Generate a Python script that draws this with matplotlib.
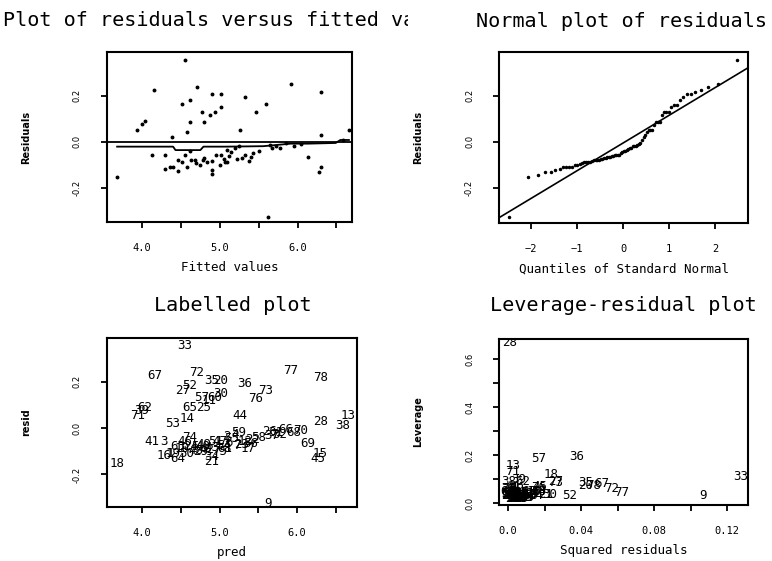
import numpy as np
import matplotlib
matplotlib.use("Agg")
import matplotlib.pyplot as plt
from matplotlib.transforms import Bbox
from statistics import NormalDist

# observations: fitted value, residual, leverage, observation number
fitted = [4.55, 4.16, 4.71, 4.90, 5.01, 4.62, 4.52, 5.01, 4.77, 4.94,
          4.87, 4.04, 4.00, 4.62, 4.80, 3.94, 4.58, 4.39, 4.13, 4.29,
          4.46, 4.52, 4.63, 4.68, 5.01, 5.07, 4.29, 4.36, 4.40, 4.46,
          4.58, 4.75, 4.90, 4.90, 3.68, 5.91, 6.30, 5.33, 5.59, 5.46,
          5.26, 6.30, 6.66, 6.14, 6.30, 6.27, 5.62, 5.09, 5.20, 5.12,
          5.22, 5.09, 5.33, 5.37, 5.43, 5.29, 5.65, 5.72, 5.78, 5.67,
          6.58, 4.79, 4.84, 4.90, 4.55, 4.70, 4.80, 4.95, 5.05, 5.15,
          5.40, 5.50, 5.25, 5.85, 5.95, 6.05, 4.62, 5.00]
residual = [0.357, 0.226, 0.238, 0.206, 0.206, 0.183, 0.162, 0.151, 0.130, 0.130,
            0.117, 0.088, 0.075, 0.087, 0.087, 0.052, 0.043, 0.020, -0.057, -0.057,
            -0.078, -0.087, -0.078, -0.078, -0.057, -0.087, -0.119, -0.110, -0.110, -0.129,
            -0.110, -0.100, -0.122, -0.143, -0.153, 0.249, 0.216, 0.194, 0.162, 0.129,
            0.052, 0.030, 0.052, -0.067, -0.110, -0.132, -0.327, -0.035, -0.027, -0.064,
            -0.075, -0.088, -0.057, -0.086, -0.049, -0.071, -0.013, -0.020, -0.027, -0.030,
            0.009, -0.080, -0.091, -0.083, -0.060, -0.095, -0.070, -0.060, -0.075, -0.045,
            -0.065, -0.040, -0.020, -0.005, -0.020, -0.010, -0.040, -0.100]
leverage = [0.110, 0.080, 0.060, 0.085, 0.075, 0.030, 0.090, 0.035, 0.187, 0.050,
            0.040, 0.090, 0.100, 0.030, 0.045, 0.130, 0.060, 0.040, 0.070, 0.050,
            0.030, 0.040, 0.035, 0.020, 0.030, 0.025, 0.050, 0.040, 0.035, 0.050,
            0.030, 0.025, 0.030, 0.035, 0.120, 0.045, 0.075, 0.196, 0.085, 0.065,
            0.040, 0.668, 0.158, 0.060, 0.050, 0.070, 0.030, 0.020, 0.025, 0.030,
            0.020, 0.030, 0.025, 0.035, 0.020, 0.025, 0.030, 0.035, 0.040, 0.030,
            0.090, 0.020, 0.025, 0.020, 0.030, 0.025, 0.020, 0.025, 0.020, 0.030,
            0.025, 0.030, 0.040, 0.050, 0.045, 0.060, 0.030, 0.025]
obs = [33, 67, 72, 35, 20, 52, 27, 30, 57, 60,
       11, 62, 39, 65, 25, 71, 14, 53, 41, 3,
       63, 10, 24, 5, 47, 61, 16, 1, 19, 64,
       50, 29, 34, 21, 18, 77, 78, 36, 73, 76,
       44, 28, 13, 69, 15, 45, 9, 2, 4, 6,
       7, 8, 12, 17, 22, 23, 26, 31, 32, 37,
       38, 40, 42, 43, 46, 48, 49, 51, 54, 55,
       56, 58, 59, 66, 68, 70, 74, 75]

# smoother through residuals vs fitted
smooth_x = [3.68, 4.40, 4.43, 4.75, 4.79, 5.08, 5.56, 5.72, 5.91, 6.13, 6.49, 6.55, 6.66]
smooth_y = [-0.022, -0.022, -0.037, -0.037, -0.022, -0.022, -0.020, -0.015, -0.009, -0.009, -0.006, 0.007, 0.007]

# reference line of the normal plot
qq_slope = 0.12
qq_intercept = -0.005

fitted = np.array(fitted)
residual = np.array(residual)
leverage = np.array(leverage)
n = len(residual)
sorted_res = np.sort(residual)
nd = NormalDist()
quantiles = np.array([nd.inv_cdf((i + 0.5) / n) for i in range(n)])

MONO = "DejaVu Sans Mono"
plt.rcParams["font.family"] = [MONO]
fig = plt.figure(figsize=(7.72, 5.61), dpi=100, facecolor="white")

ax1 = fig.add_axes([0.1386, 0.6043, 0.3174, 0.3030])
ax2 = fig.add_axes([0.6464, 0.6025, 0.3225, 0.3048])
ax3 = fig.add_axes([0.1386, 0.0963, 0.3238, 0.3012])
ax4 = fig.add_axes([0.6464, 0.0998, 0.3225, 0.2959])


def style(ax, ylab, xlab):
    for s in ax.spines.values():
        s.set_linewidth(1.5)
    ax.tick_params(axis="both", direction="out", length=4, width=1.3)
    ax.tick_params(axis="x", pad=11, labelsize=7.5)
    ax.tick_params(axis="y", pad=14, labelrotation=90, labelsize=6)
    for t in ax.get_yticklabels():
        t.set_va("center")
        t.set_family("DejaVu Sans")
    ax.set_xlabel(xlab, fontsize=9, labelpad=6)
    ax.set_ylabel(ylab, fontsize=7, fontweight="bold", family="DejaVu Sans",
                  labelpad=30)


# residuals vs fitted
ax1.plot(fitted, residual, "o", ms=1.8, color="black")
ax1.axhline(0, color="black", lw=1.3)
ax1.plot(smooth_x, smooth_y, color="black", lw=1.3)
ax1.set_xlim(3.55, 6.70)
ax1.set_ylim(-0.35, 0.39)
ax1.set_xticks([4.0, 4.5, 5.0, 5.5, 6.0, 6.5])
ax1.set_xticklabels(["4.0", "", "5.0", "", "6.0", ""])
ax1.set_yticks([-0.2, 0.0, 0.2])
ax1.set_yticklabels(["-0.2", "0.0", "0.2"])
style(ax1, "Residuals", "Fitted values")

# normal plot
ax2.plot(quantiles, sorted_res, "o", ms=1.5, color="black")
qx = np.array([-2.7, 2.72])
ax2.plot(qx, qq_intercept + qq_slope * qx, color="black", lw=1.2)
ax2.set_xlim(-2.7, 2.72)
ax2.set_ylim(-0.352, 0.39)
ax2.set_xticks([-2, -1, 0, 1, 2])
ax2.set_yticks([-0.2, 0.0, 0.2])
ax2.set_yticklabels(["-0.2", "0.0", "0.2"])
style(ax2, "Residuals", "Quantiles of Standard Normal")

# labelled plot
for f, r, k in zip(fitted, residual, obs):
    ax3.text(f, r, str(k), fontsize=9, ha="center", va="center", clip_on=True)
ax3.set_xlim(3.55, 6.77)
ax3.set_ylim(-0.34, 0.388)
ax3.set_xticks([4.0, 4.5, 5.0, 5.5, 6.0, 6.5])
ax3.set_xticklabels(["4.0", "", "5.0", "", "6.0", ""])
ax3.set_yticks([-0.2, 0.0, 0.2])
ax3.set_yticklabels(["-0.2", "0.0", "0.2"])
style(ax3, "resid", "pred")

# leverage vs squared residuals
for r2, h, k in zip(residual ** 2, leverage, obs):
    ax4.text(r2, h, str(k), fontsize=9, ha="center", va="center", clip_on=True)
ax4.set_xlim(-0.005, 0.1315)
ax4.set_ylim(-0.008, 0.683)
ax4.set_xticks([0.0, 0.02, 0.04, 0.06, 0.08, 0.10, 0.12])
ax4.set_xticklabels(["0.0", "", "0.04", "", "0.08", "", "0.12"])
ax4.set_yticks([0.0, 0.1, 0.2, 0.3, 0.4, 0.5, 0.6])
ax4.set_yticklabels(["0.0", "", "0.2", "", "0.4", "", "0.6"])
style(ax4, "Leverage", "Squared residuals")

# titles
t1 = fig.text(0.302, 0.964, "Plot of residuals versus fitted values", fontsize=14.5,
              ha="center", va="center")
t1.set_clip_box(Bbox.from_extents(0, 0, 408, 561))
t1.set_clip_on(True)
fig.text(0.805, 0.961, "Normal plot of residuals", fontsize=14.5, ha="center", va="center")
fig.text(0.302, 0.456, "Labelled plot", fontsize=14.5, ha="center", va="center")
fig.text(0.807, 0.456, "Leverage-residual plot", fontsize=14.5, ha="center", va="center")

fig.savefig("out.png", dpi=100, facecolor="white")
